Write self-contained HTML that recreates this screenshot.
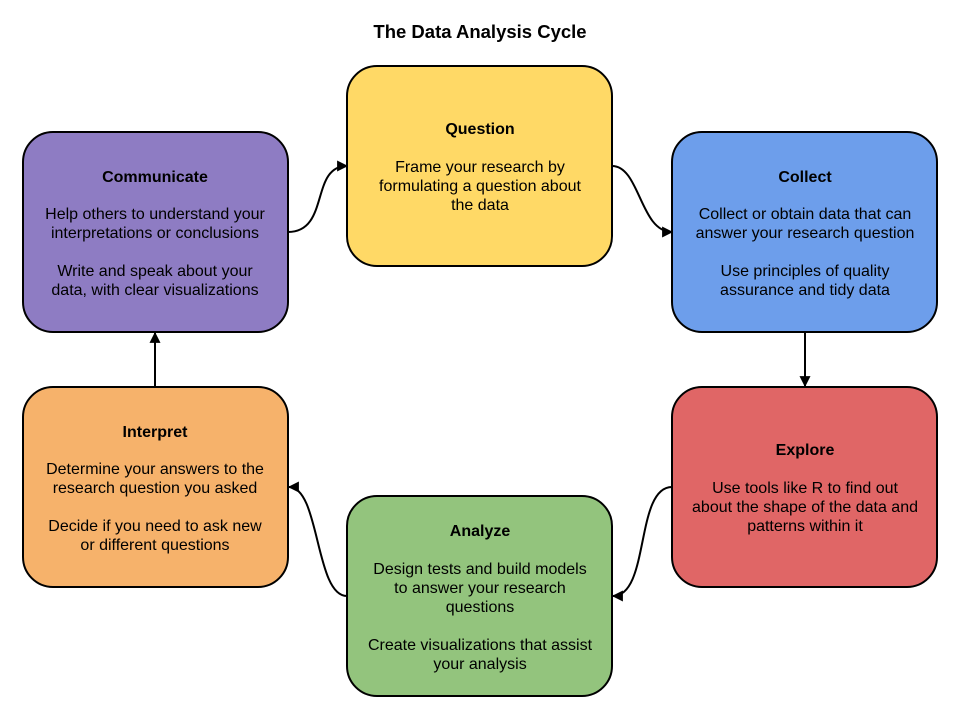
<!DOCTYPE html>
<html><head><meta charset="utf-8"><style>
html,body{margin:0;padding:0;background:#fff;}
svg{display:block;font-family:"Liberation Sans",Arial,sans-serif;}
</style></head><body>
<svg width="960" height="720" viewBox="0 0 960 720" xmlns="http://www.w3.org/2000/svg">
<defs><marker id="a" viewBox="0 0 10 10" refX="9" refY="5" markerWidth="12" markerHeight="11" orient="auto" markerUnits="userSpaceOnUse"><path d="M0,0 L10,5 L0,10 z" fill="#000"/></marker></defs>
<text x="480" y="38" text-anchor="middle" font-size="18.5" font-weight="bold">The Data Analysis Cycle</text>
<g stroke="#000" stroke-width="2">
<rect x="23" y="132" width="265" height="200" rx="30" fill="#8e7cc3"/>
<rect x="347" y="66" width="265" height="200" rx="30" fill="#ffd966"/>
<rect x="672" y="132" width="265" height="200" rx="30" fill="#6d9eeb"/>
<rect x="672" y="387" width="265" height="200" rx="30" fill="#e06666"/>
<rect x="347" y="496" width="265" height="200" rx="30" fill="#93c47d"/>
<rect x="23" y="387" width="265" height="200" rx="30" fill="#f6b26b"/>
</g>
<g fill="none" stroke="#000" stroke-width="2" marker-end="url(#a)">
<path d="M288,232 C330,232 310,166 347,166"/>
<path d="M612,166 C640,166 640,232 672,232"/>
<path d="M805,332 L805,386"/>
<path d="M672,487 C635,487 650,596 613,596"/>
<path d="M347,596 C315,596 320,487 289,487"/>
<path d="M155,387 L155,333"/>
</g>
<g font-size="16" text-anchor="middle">
<text x="155" y="182" font-weight="bold">Communicate</text>
<text x="155" y="219">Help others to understand your</text>
<text x="155" y="238">interpretations or conclusions</text>
<text x="155" y="276">Write and speak about your</text>
<text x="155" y="295">data, with clear visualizations</text>

<text x="480" y="134" font-weight="bold">Question</text>
<text x="480" y="172">Frame your research by</text>
<text x="480" y="191">formulating a question about</text>
<text x="480" y="210">the data</text>

<text x="805" y="182" font-weight="bold">Collect</text>
<text x="805" y="219">Collect or obtain data that can</text>
<text x="805" y="238">answer your research question</text>
<text x="805" y="276">Use principles of quality</text>
<text x="805" y="295">assurance and tidy data</text>

<text x="805" y="455" font-weight="bold">Explore</text>
<text x="805" y="493">Use tools like R to find out</text>
<text x="805" y="512">about the shape of the data and</text>
<text x="805" y="531">patterns within it</text>

<text x="480" y="536" font-weight="bold">Analyze</text>
<text x="480" y="574">Design tests and build models</text>
<text x="480" y="593">to answer your research</text>
<text x="480" y="612">questions</text>
<text x="480" y="650">Create visualizations that assist</text>
<text x="480" y="669">your analysis</text>

<text x="155" y="437" font-weight="bold">Interpret</text>
<text x="155" y="474">Determine your answers to the</text>
<text x="155" y="493">research question you asked</text>
<text x="155" y="531">Decide if you need to ask new</text>
<text x="155" y="550">or different questions</text>
</g>
</svg>
</body></html>
